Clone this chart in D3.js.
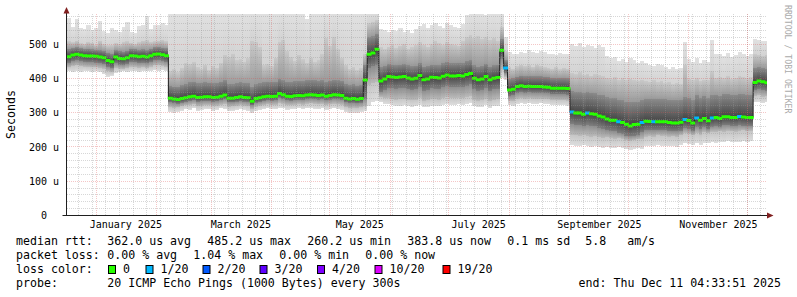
<!DOCTYPE html>
<html><head><meta charset="utf-8">
<script src="https://cdn.jsdelivr.net/npm/d3@7"></script>
<style>
html,body{margin:0;padding:0;background:#fff;}
svg{display:block;}
text{font-family:"DejaVu Sans Mono",monospace;white-space:pre;}
</style></head><body>
<svg id="c" width="797" height="297"></svg>
<script>
// ---- time base ----
const startTime = Date.UTC(2024, 11, 17, 2, 0, 0);
const endTime   = Date.UTC(2025, 11, 11, 4, 33, 51);
const stepDays = 2;

// ---- median rtt (microseconds), one value per 2-day step ----
const median = [
463,468,470,468,466,465,465,464,462,460,452,448,462,458,457,460,466,465,463,464,462,466,470,471,469,466,
342,340,338,341,343,346,348,344,345,346,346,344,345,348,351,342,342,344,346,344,343,333,341,343,346,348,347,348,356,352,348,347,349,350,349,351,352,351,350,351,348,350,352,351,350,342,340,341,339,341,
395,
470,474,485,
392,398,405,404,402,404,405,401,398,400,408,396,398,403,402,401,406,410,407,407,408,407,411,414,400,396,398,405,396,400,402,
482,430,
366,368,376,378,376,377,376,376,376,375,374,371,371,371,371,370,
302,299,299,295,299,297,295,290,287,281,278,278,273,271,266,261,265,266,271,275,274,273,273,273,273,271,270,270,272,280,277,270,284,278,283,276,284,286,283,288,288,286,286,289,287,286,286,
388,392,390,387];

// ---- smoke: lowest ping, lower quantiles, upper quantiles, highest ping ----
const pingLow = [
422,418,420,418,422,420,419,421,418,412,405,408,416,418,420,419,421,420,418,421,420,422,423,421,424,422,
302,300,303,306,310,308,312,305,309,311,310,306,309,312,310,304,306,308,311,309,306,298,305,308,310,312,311,310,314,312,309,310,311,313,310,312,314,311,310,313,309,311,312,310,309,302,298,300,299,302,
305,
320,330,335,
330,326,324,322,320,318,321,319,316,318,323,315,317,320,319,318,322,325,323,322,324,321,326,328,318,315,317,322,314,318,320,
400,395,
322,320,325,327,326,328,326,325,327,326,325,322,323,321,322,320,
205,204,203,206,202,200,203,199,197,200,198,196,199,197,193,192,194,196,195,203,204,202,205,203,204,202,203,201,206,210,208,205,210,207,212,210,214,212,215,213,216,214,213,215,217,214,216,
330,332,328,330];
const pingQ15 = [
432,436,438,435,434,433,432,432,430,428,420,418,430,428,427,430,434,433,431,432,430,434,438,439,437,434,
316,314,315,318,321,322,324,318,320,322,322,319,320,323,325,317,318,320,322,320,318,310,317,320,322,324,323,323,328,326,322,322,323,325,323,326,327,326,324,326,322,324,326,324,323,316,312,314,313,315,
318,
380,385,390,
345,342,343,340,338,340,341,338,336,337,344,334,336,340,339,338,342,346,343,342,344,342,346,348,338,334,336,341,333,337,339,
425,405,
335,334,340,342,341,342,341,340,341,340,339,337,337,336,336,335,
236,234,233,235,232,230,232,228,226,228,226,224,226,224,220,218,220,222,222,230,232,230,234,232,233,230,231,229,234,240,238,234,240,236,242,240,244,243,246,244,247,245,244,246,248,245,247,
348,350,346,347];
const pingQ35 = [
445,450,452,450,448,447,447,446,444,442,434,430,444,440,439,442,448,447,445,446,444,448,452,453,451,448,
330,328,326,329,331,334,336,332,333,334,334,332,333,336,339,330,330,332,334,332,331,321,329,331,334,336,335,336,344,340,336,335,337,338,337,339,340,339,338,339,336,338,340,339,338,330,328,329,327,329,
340,
430,435,440,
360,366,372,372,370,372,373,369,366,368,376,364,366,371,370,369,374,378,375,375,376,375,379,382,368,364,366,373,364,368,370,
455,415,
348,350,358,360,358,359,358,358,358,357,356,353,353,353,353,352,
268,264,264,260,264,262,260,256,253,248,246,245,240,238,233,231,232,234,242,248,248,248,248,248,248,246,245,245,247,255,252,246,258,253,258,251,259,261,258,263,263,261,261,264,262,261,261,
365,368,366,364];
const pingQ65 = [
486,488,490,487,485,486,484,483,482,480,475,472,482,480,478,481,486,485,483,484,482,486,490,491,489,487,
378,376,375,380,384,388,390,385,386,388,387,385,386,390,394,384,383,386,388,386,385,375,383,386,388,390,389,390,398,394,390,389,391,392,391,394,395,394,392,394,390,393,396,394,392,384,380,382,379,381,
440,
520,522,530,
432,436,442,440,438,440,442,438,435,437,445,434,436,440,439,438,444,448,445,445,446,445,450,452,438,434,436,443,434,438,440,
515,452,
398,400,405,408,406,407,406,406,406,405,404,401,401,401,401,400,
362,360,360,356,360,358,356,352,350,345,342,342,338,336,332,330,331,332,336,340,340,339,339,339,339,337,336,336,338,346,343,336,350,344,349,342,350,352,349,354,354,352,352,355,353,352,352,
430,432,430,428];
const pingQ85 = [
508,505,510,502,500,506,504,498,510,500,496,498,503,500,506,508,504,500,505,510,512,506,508,510,512,508,
420,426,418,430,445,442,448,432,428,440,425,436,430,446,468,462,470,452,455,448,458,510,505,490,438,442,436,460,505,512,480,462,450,468,455,445,460,448,452,470,518,495,520,485,460,440,428,432,424,430,
470,
560,565,570,
490,485,492,498,488,495,500,486,490,496,505,498,492,500,510,502,496,505,500,498,494,508,520,525,518,522,515,520,512,518,510,
550,480,
432,428,435,440,436,438,434,440,436,432,430,428,432,426,430,428,
415,412,418,410,414,408,412,410,406,402,398,404,396,400,394,398,395,392,396,392,390,394,388,392,385,388,382,386,384,440,398,394,400,392,396,394,420,402,404,400,406,398,402,408,404,400,405,
470,468,465,468];
const pingHigh = [
575,550,574,548,544,555,540,548,566,538,532,546,540,535,550,563,534,532,552,556,583,545,554,556,560,555,
600,600,600,600,600,600,600,600,600,600,600,600,600,600,600,600,600,600,600,600,600,600,600,600,600,600,600,600,600,600,600,600,600,600,600,572,600,600,600,600,600,600,600,600,600,600,600,600,600,600,
600,
600,600,600,
545,540,536,542,538,548,535,540,532,545,552,558,548,556,560,553,548,562,555,550,548,557,585,590,588,592,590,586,590,592,588,
592,520,
478,470,472,476,474,482,478,475,480,476,470,472,468,474,470,472,
500,495,502,490,498,494,488,496,492,465,458,462,450,455,448,460,452,446,450,445,440,436,442,438,432,428,434,426,430,505,455,448,460,445,452,447,512,470,470,465,474,462,468,476,470,466,472,
515,512,508,510];

// steps with 1/20 packet loss (index into arrays)
const loss1Steps = [112,129,133,141,147,150,158,161,165,172];

// ---- axes ----
const yTicks = [0,100,200,300,400,500];
const yTickLabels = ["0  ","100 u","200 u","300 u","400 u","500 u"];
const xLabelDates = ["2025-01-16","2025-03-16","2025-05-16","2025-07-16","2025-09-16","2025-11-16"];
const xLabels = ["January 2025","March 2025","May 2025","July 2025","September 2025","November 2025"];

// ---- legend ----
const lossNames  = ["0","1/20","2/20","3/20","4/20","10/20","19/20"];
const lossColors = ["#26ff00","#00b8ff","#0059ff","#5e00ff","#7e00ff","#dd00ff","#ff0000"];
const rttStats  = ["362.0 us avg","485.2 us max","260.2 us min","383.8 us now","0.1 ms sd","5.8   am/s"];
const lossStats = ["0.00 % avg","1.04 % max","0.00 % min","0.00 % now"];
const probeText = "20 ICMP Echo Pings (1000 Bytes) every 300s";
const endText = "end: Thu Dec 11 04:33:51 2025";

// ================= drawing =================
const svg = d3.select("#c");
svg.append("rect").attr("width",797).attr("height",297).attr("fill","#ffffff");

const x = d3.scaleUtc().domain([new Date(startTime), new Date(endTime)]).range([67, 767]);
const y = d3.scaleLinear().domain([0, 587.5]).range([215.5, 14]);

const N = median.length;
const arrs = {lo:pingLow,q1:pingQ15,q2:pingQ35,med:median,q4:pingQ65,q5:pingQ85,hi:pingHigh};
const bad = Object.entries(arrs).filter(([k,a])=>a.length!==N).map(([k,a])=>k+":"+a.length);
if (bad.length) svg.append("text").attr("x",200).attr("y",150).attr("fill","red").text("LEN "+bad.join(" "));

const pts = d3.range(N+1).map(i => {
  const k = Math.min(i, N-1);
  const o = {t: new Date(startTime + i*stepDays*864e5)};
  for (const key in arrs) o[key] = arrs[key][k];
  return o;
});

const defs = svg.append("defs");
defs.append("clipPath").attr("id","plotclip")
  .append("rect").attr("x",67).attr("y",14).attr("width",700).attr("height",201.5);

// smoke bands: [from, to, colour at top, colour at bottom]
const bands = [
  ["q5","hi","#e1e1e1","#d3d3d3"],
  ["q4","q5","#c9c9c9","#9a9a9a"],
  ["med","q4","#8a8a8a","#444444"],
  ["q2","med","#444444","#7e7e7e"],
  ["q1","q2","#8e8e8e","#bababa"],
  ["lo","q1","#c6c6c6","#dddddd"]
];
bands.forEach(([a,b,c1,c2],k) => {
  const gr = defs.append("linearGradient").attr("id","band"+k).attr("x1",0).attr("x2",0).attr("y1",0).attr("y2",1);
  gr.append("stop").attr("offset",0).attr("stop-color",c1);
  gr.append("stop").attr("offset",1).attr("stop-color",c2);
});

const plot = svg.append("g").attr("clip-path","url(#plotclip)");
const smoke = plot.append("g").attr("shape-rendering","crispEdges");
d3.range(N).forEach(i => {
  const x0 = x(pts[i].t), x1 = x(pts[i+1].t);
  bands.forEach(([a,b],k) => {
    const yt = y(pts[i][b]), yb = y(pts[i][a]);
    if (yb - yt <= 0) return;
    smoke.append("rect").attr("x",x0).attr("width",x1-x0+0.3)
      .attr("y",yt).attr("height",yb-yt).attr("fill","url(#band"+k+")");
  });
});

// grid (drawn over the smoke, as rrdtool does)
const grid = svg.append("g").attr("clip-path","url(#plotclip)");
const snap = v => Math.floor(v) + 0.5;
const minorCol = "rgba(150,150,150,0.38)";
const majorCol = "rgba(222,79,79,0.32)";
d3.range(20, 588, 20).filter(v => v % 100 !== 0).forEach(v => {
  grid.append("line").attr("x1",67).attr("x2",767).attr("y1",snap(y(v))).attr("y2",snap(y(v)))
    .attr("stroke",minorCol).attr("stroke-dasharray","1,1");
});
d3.utcMonday.range(new Date(startTime), new Date(endTime)).forEach(d => {
  grid.append("line").attr("x1",snap(x(d))).attr("x2",snap(x(d))).attr("y1",14).attr("y2",215)
    .attr("stroke",minorCol).attr("stroke-dasharray","1,1");
});
yTicks.filter(v => v > 0).forEach(v => {
  grid.append("line").attr("x1",67).attr("x2",767).attr("y1",snap(y(v))).attr("y2",snap(y(v)))
    .attr("stroke",majorCol).attr("stroke-dasharray","1,1");
});
d3.utcMonth.range(new Date(startTime), new Date(endTime)).forEach(d => {
  grid.append("line").attr("x1",snap(x(d))).attr("x2",snap(x(d))).attr("y1",14).attr("y2",215)
    .attr("stroke",majorCol).attr("stroke-dasharray","1,1");
});

// median line: thin dark step line + thick loss-coloured steps
plot.append("path").datum(pts)
  .attr("fill","none").attr("stroke","#202020").attr("stroke-width",1)
  .attr("d", d3.line().curve(d3.curveStepAfter).x(d => x(d.t)).y(d => y(d.med)));
const lossSet = new Set(loss1Steps);
d3.range(N).forEach(i => {
  plot.append("line")
    .attr("x1", x(pts[i].t) - 0.5).attr("x2", x(pts[i+1].t) + 0.5)
    .attr("y1", y(median[i])).attr("y2", y(median[i]))
    .attr("stroke", lossSet.has(i) ? lossColors[1] : lossColors[0])
    .attr("stroke-width", 3);
});

// axes lines and arrows
svg.append("line").attr("x1",62.5).attr("x2",768).attr("y1",215.5).attr("y2",215.5).attr("stroke","#1f1f1f");
svg.append("line").attr("x1",66.5).attr("x2",66.5).attr("y1",216).attr("y2",13).attr("stroke","#1f1f1f");
svg.append("path").attr("d","M767,212.5L773.5,215.5L767,218.5Z").attr("fill","#801f1f");
svg.append("path").attr("d","M63.5,13.5L66.5,7L69.5,13.5Z").attr("fill","#801f1f");

// y axis labels
const yAx = svg.append("g").attr("transform","translate(66.5,0)")
  .call(d3.axisLeft(y).tickValues(yTicks).tickSize(0).tickPadding(7.5)
    .tickFormat((d,i) => yTickLabels[i]));
yAx.select(".domain").remove();
yAx.selectAll("text").attr("font-family","DejaVu Sans Mono").attr("font-size","10px").attr("fill","#000")
  .style("white-space","pre");

// x axis labels
const xAx = svg.append("g").attr("transform","translate(0,215.5)")
  .call(d3.axisBottom(x).tickValues(xLabelDates.map(s => new Date(s + "T00:00:00Z")))
    .tickSize(0).tickPadding(5.5).tickFormat((d,i) => xLabels[i]));
xAx.select(".domain").remove();
xAx.selectAll("text").attr("font-family","DejaVu Sans Mono").attr("font-size","10px").attr("fill","#000");

// vertical labels
svg.append("text").attr("transform","translate(15,114.5) rotate(-90)")
  .attr("text-anchor","middle").attr("font-size","11.6px").attr("fill","#000").text("Seconds");
svg.append("text").attr("transform","translate(785,5) rotate(90)")
  .attr("text-anchor","start").attr("font-size","8.2px").attr("fill","#aaaaaa").text("RRDTOOL / TOBI OETIKER");

// legend
const fs = "11.6px";
const lg = svg.append("g").attr("font-size",fs).attr("fill","#000");
lg.append("text").attr("x",16).attr("y",244.5).text("median rtt:");
rttStats.forEach((s,i) => lg.append("text").attr("x",107.3 + i*100 - (i===5 ? 22 : 0)).attr("y",244.5).text(s));
lg.append("text").attr("x",16).attr("y",258.5).text("packet loss:");
lossStats.forEach((s,i) => lg.append("text").attr("x",107.3 + i*86).attr("y",258.5).text(s));
lg.append("text").attr("x",16).attr("y",272.5).text("loss color:");
const boxX = [108.5,146,203,260,317.5,375,443];
lossNames.forEach((s,i) => {
  lg.append("rect").attr("x",boxX[i]).attr("y",265.5).attr("width",7).attr("height",8)
    .attr("fill",lossColors[i]).attr("stroke","#000").attr("stroke-width",1);
  lg.append("text").attr("x",boxX[i] + 14.5).attr("y",272.5).text(s);
});
lg.append("text").attr("x",16).attr("y",286.5).text("probe:");
lg.append("text").attr("x",107.3).attr("y",286.5).text(probeText);
lg.append("text").attr("x",781).attr("y",286.5).attr("text-anchor","end").text(endText);
</script>
</body></html>
